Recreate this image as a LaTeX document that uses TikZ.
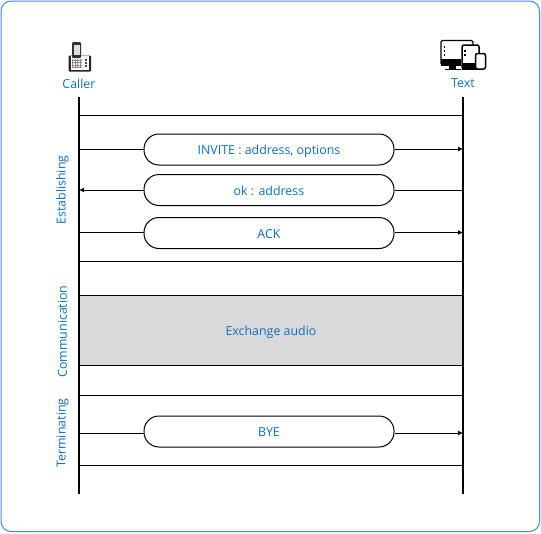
\documentclass[tikz,border=0pt]{standalone}
\usepackage{fontspec}
\setmainfont{Open Sans}
\usepackage{xcolor}
\usetikzlibrary{arrows.meta,positioning}
\definecolor{frameblue}{HTML}{4A86E0}
\definecolor{labelblue}{HTML}{0B6FC6}
\definecolor{audiogray}{HTML}{D9D9D9}
\tikzset{
  lifeline/.style={line width=2pt,draw=black},
  rule/.style={line width=1pt,draw=black},
  arrow/.style={-{Latex[length=5pt,width=5pt]},line width=1pt,draw=black},
  pill/.style={draw=black,line width=1pt,rounded corners=15pt,fill=white,
    minimum width=250pt,minimum height=31pt,inner sep=0pt,text height=10pt,text depth=0pt,
    font=\fontsize{12.4}{14}\selectfont,text=labelblue},
  audio/.style={draw=black,line width=1pt,fill=audiogray,
    minimum width=384pt,minimum height=70pt,inner sep=0pt,text height=10pt,text depth=0pt,
    font=\fontsize{12.4}{14}\selectfont,text=labelblue},
  title/.style={font=\fontsize{12.4}{14}\selectfont,text=labelblue,inner sep=0pt},
  phase/.style={title,rotate=90}
}
\begin{document}
\begin{tikzpicture}[x=1pt,y=-1pt]
  \useasboundingbox (0,0) rectangle (541,533);
  \draw[frameblue,line width=1pt,rounded corners=10pt] (1,1) rectangle (539.5,531.5);
  % ends of the two lifelines
  \coordinate (callertop) at (79,97);
  \coordinate (callerend) at (79,494);
  \coordinate (texttop) at (463,97);
  \coordinate (textend) at (463,494);
  % phases
  \node[title] (caller) at (79,83.5) {Caller};
  \node[title] (text) at (463,83.5) {Text};
  \node[phase] (establishing) at (62.5,190) {Establishing};
  \node[phase] (communication) at (62.5,331.5) {Communication};
  \node[phase] (terminating) at (62.5,433) {Terminating};
  % gray block and pills
  \node[audio] (exchange) at (271,330) {Exchange audio};
  \node[pill] (invite) at (269,149.5) {INVITE : address, options};
  \node[pill] (ok) at (269,190) {ok : address};
  \node[pill] (ack) at (269,233) {ACK};
  \node[pill] (bye) at (269,431.5) {BYE};
  % horizontal rules
  \foreach \y/\name in {115/a,261/b,365/c,395/d,465/e}{
    \coordinate (left\name) at (79,\y);
    \coordinate (right\name) at (463,\y);
    \draw[rule] (left\name) -- (right\name);
  }
  % messages
  \coordinate (invitel) at (79,149);
  \coordinate (inviter) at (463,149);
  \coordinate (okl) at (79,190);
  \coordinate (okr) at (463,190);
  \coordinate (ackl) at (79,232.5);
  \coordinate (ackr) at (463,232.5);
  \coordinate (byel) at (79,433);
  \coordinate (byer) at (463,433);
  \draw[rule] (invitel) -- (invite.west |- invitel);
  \draw[arrow] (invite.east |- inviter) -- (inviter);
  \draw[rule] (okr) -- (ok.east |- okr);
  \draw[arrow] (ok.west |- okl) -- (okl);
  \draw[rule] (ackl) -- (ack.west |- ackl);
  \draw[arrow] (ack.east |- ackr) -- (ackr);
  \draw[rule] (byel) -- (bye.west |- byel);
  \draw[arrow] (bye.east |- byer) -- (byer);
  \draw[lifeline] (callertop) -- (callerend);
  \draw[lifeline] (texttop) -- (textend);
  % phone icon
  \fill[black!85,rounded corners=1pt] (68.5,55.5) rectangle (91,71.5);
  \fill[white] (71,55.5) rectangle (88.5,70);
  \fill[black!80,rounded corners=1pt] (72,42) rectangle (81,58);
  \fill[black!12] (73.5,45) rectangle (79.5,55);
  \draw[black!45,line width=.4pt,step=2.5pt] (72,59) grid (82,68);
  \foreach \y in {59,62,65}{
    \fill[black!70] (85,\y) rectangle (87,\y+1.5);
  }
  % devices icon
  \draw[black,line width=1.4pt,rounded corners=1.5pt] (441,64) -- (441,40.5) -- (473,40.5) -- (473,45);
  \fill[black] (440.5,58.5) rectangle (461,65.5);
  \fill[black] (449,65.5) rectangle (456,68.5);
  \fill[black] (445,68.5) rectangle (461,70);
  \foreach \y in {46,50,54}{
    \fill[black] (443.5,\y) rectangle (445,\y+2);
  }
  \draw[black,line width=1.5pt,fill=white,rounded corners=2pt] (462,45) rectangle (479,69);
  \fill[black] (462,63) rectangle (476,69.5);
  \foreach \y in {50,54}{
    \fill[black] (464,\y) rectangle (465.5,\y+2);
  }
  \draw[black,line width=1.5pt,fill=white,rounded corners=2pt] (475.5,53.5) rectangle (485.5,69);
\end{tikzpicture}
\end{document}
